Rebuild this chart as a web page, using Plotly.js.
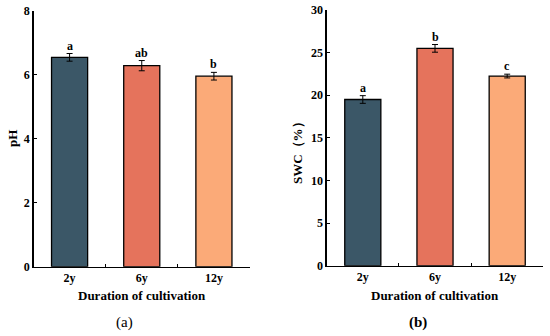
<!DOCTYPE html>
<html><head><meta charset="utf-8">
<script src="https://cdn.plot.ly/plotly-3.0.1.min.js"></script>
<style>body{margin:0;background:#fff}#c{width:550px;height:336px}</style>
</head><body><div id="c"></div>
<script>
const categories = ['2y', '6y', '12y'];
const phValues = [6.55, 6.29, 5.96];
const phErrors = [0.12, 0.16, 0.12];
const phLetters = ['a', 'ab', 'b'];
const swcValues = [19.5, 25.5, 22.25];
const swcErrors = [0.45, 0.45, 0.22];
const swcLetters = ['a', 'b', 'c'];
const barColors = ['#3B5767', '#E5735C', '#FBAA78'];

const F = 'Liberation Serif, Times New Roman, serif';
const tickFont = {family: F, size: 12, color: '#000', weight: 'bold'};

function barTrace(vals, errs, xa, ya) {
  return {
    type: 'bar', x: categories, y: vals, xaxis: xa, yaxis: ya,
    marker: {color: barColors, line: {color: '#000', width: 1.3}},
    error_y: {type: 'data', array: errs, visible: true, color: '#000', thickness: 1, width: 3},
    width: 0.5, showlegend: false, hoverinfo: 'none'
  };
}

const xbase = {type: 'category', showline: true, linecolor: '#000', linewidth: 1.3,
  ticks: 'inside', ticklen: 3, tickcolor: '#000', tickson: 'boundaries', automargin: false,
  tickfont: tickFont, showgrid: false, zeroline: false, fixedrange: true};
const ybase = {showline: true, linecolor: '#000', linewidth: 1.3, automargin: false,
  ticks: 'inside', ticklen: 3, tickcolor: '#000', tickfont: tickFont,
  showgrid: false, zeroline: false, fixedrange: true};

const annotations = [];
categories.forEach((c, i) => {
  annotations.push({x: c, y: phValues[i] + phErrors[i], xref: 'x', yref: 'y', text: phLetters[i],
    showarrow: false, xanchor: 'center', yanchor: 'bottom', yshift: -1, font: {family: F, size: 12, weight: 'bold', color: '#000'}});
  annotations.push({x: c, y: swcValues[i] + swcErrors[i], xref: 'x2', yref: 'y2', text: swcLetters[i],
    showarrow: false, xanchor: 'center', yanchor: 'bottom', yshift: -1, font: {family: F, size: 12, weight: 'bold', color: '#000'}});
});
const titleFont = {family: F, size: 13, weight: 'bold', color: '#000'};
function pa(x, y, text, font, angle) {
  return {xref: 'paper', yref: 'paper', x: x/550, y: 1 - y/336, text: text, showarrow: false,
    xanchor: 'center', yanchor: 'middle', textangle: angle || 0, font: font};
}
annotations.push(
  pa(141.7, 295, 'Duration of cultivation', titleFont),
  pa(435, 295, 'Duration of cultivation', titleFont),
  pa(12, 139, 'pH', titleFont, -90),
  pa(297, 150, 'SWC（%）', titleFont, -90),
  pa(124, 322, '(a)', {family: F, size: 15, color: '#000'}),
  pa(418, 322, '(b)', {family: F, size: 15, color: '#000', weight: 'bold'})
);

const layout = {
  width: 550, height: 336, margin: {l: 0, r: 0, t: 0, b: 0, pad: 0, autoexpand: false},
  paper_bgcolor: '#fff', plot_bgcolor: '#fff',
  xaxis: Object.assign({}, xbase, {domain: [33.5/550, 250/550], anchor: 'y'}),
  yaxis: Object.assign({}, ybase, {domain: [69.3/336, 325/336], range: [0, 8], dtick: 2, anchor: 'x'}),
  xaxis2: Object.assign({}, xbase, {domain: [326.7/550, 543.3/550], anchor: 'y2'}),
  yaxis2: Object.assign({}, ybase, {domain: [70.3/336, 326/336], range: [0, 30], dtick: 5, anchor: 'x2'}),
  annotations: annotations
};

Plotly.newPlot('c', [barTrace(phValues, phErrors, 'x', 'y'), barTrace(swcValues, swcErrors, 'x2', 'y2')], layout, {staticPlot: true});
</script></body></html>
